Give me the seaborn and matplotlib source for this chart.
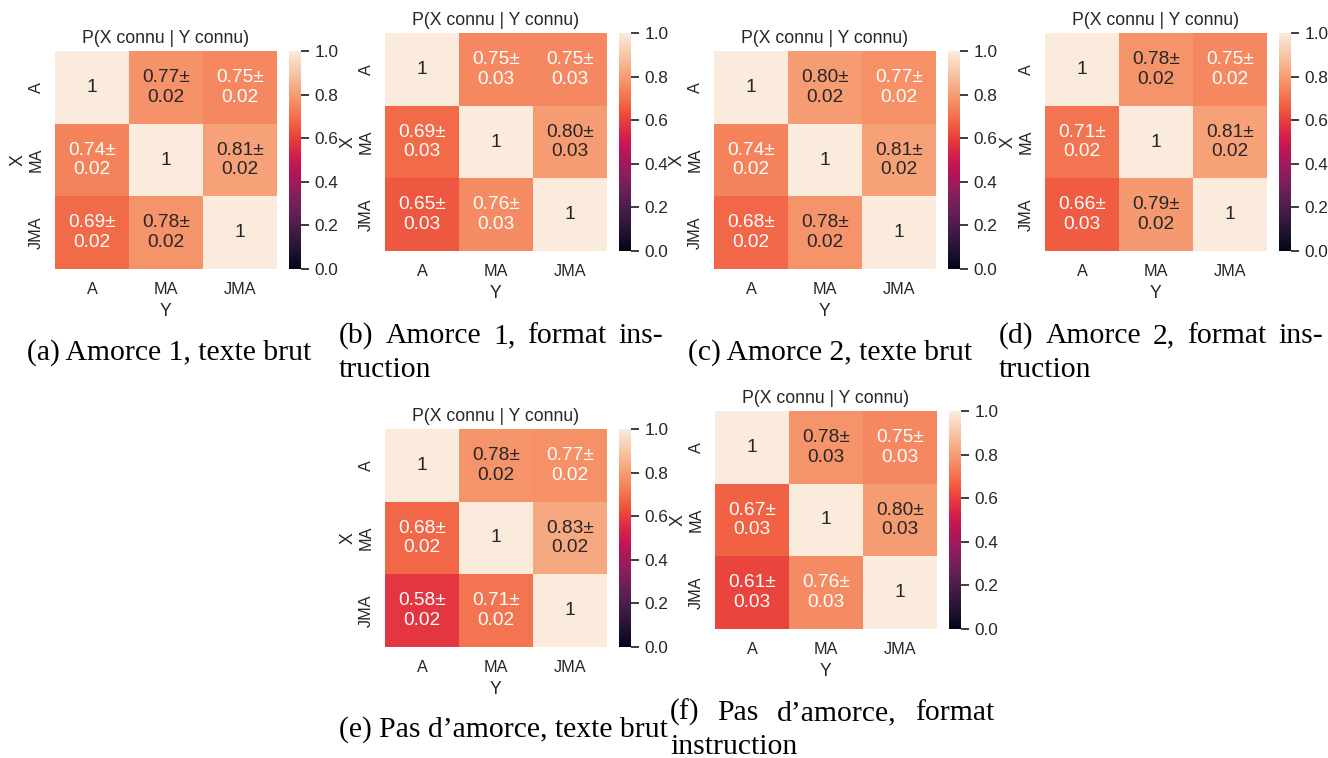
import matplotlib
matplotlib.use("Agg")
import matplotlib.pyplot as plt
import numpy as np
import pandas as pd
import seaborn as sns

# Knowledge categories (rows = X, columns = Y)
levels = ["A", "MA", "JMA"]

# Mean conditional probabilities P(X known | Y known) per setting
means_a = [[1.00, 0.774, 0.75], [0.74, 1.00, 0.81], [0.69, 0.78, 1.00]]
errs_a = [[0.00, 0.02, 0.02], [0.02, 0.00, 0.02], [0.02, 0.02, 0.00]]

means_b = [[1.00, 0.75, 0.75], [0.69, 1.00, 0.80], [0.65, 0.76, 1.00]]
errs_b = [[0.00, 0.03, 0.03], [0.03, 0.00, 0.03], [0.03, 0.03, 0.00]]

means_c = [[1.00, 0.80, 0.77], [0.74, 1.00, 0.81], [0.68, 0.78, 1.00]]
errs_c = [[0.00, 0.02, 0.02], [0.02, 0.00, 0.02], [0.02, 0.02, 0.00]]

means_d = [[1.00, 0.78, 0.75], [0.71, 1.00, 0.81], [0.66, 0.79, 1.00]]
errs_d = [[0.00, 0.02, 0.02], [0.02, 0.00, 0.02], [0.03, 0.02, 0.00]]

means_e = [[1.00, 0.78, 0.77], [0.68, 1.00, 0.83], [0.58, 0.71, 1.00]]
errs_e = [[0.00, 0.02, 0.02], [0.02, 0.00, 0.02], [0.02, 0.02, 0.00]]

means_f = [[1.00, 0.78, 0.75], [0.67, 1.00, 0.80], [0.61, 0.76, 1.00]]
errs_f = [[0.00, 0.03, 0.03], [0.03, 0.00, 0.03], [0.03, 0.03, 0.00]]

captions = [
    "(a) Amorce 1, texte brut",
    "(b) Amorce 1, format ins-|truction",
    "(c) Amorce 2, texte brut",
    "(d) Amorce 2, format ins-|truction",
    "(e) Pas d\u2019amorce, texte brut",
    "(f) Pas d\u2019amorce, format|instruction",
]

sns.set_theme(style="darkgrid", font_scale=1.06)
plt.rcParams["font.family"] = ["Liberation Sans", "DejaVu Sans"]

W, H = 1328, 758
fig = plt.figure(figsize=(W / 100, H / 100), dpi=100)


def px_axes(left, top, w, h):
    return fig.add_axes([left / W, 1 - (top + h) / H, w / W, h / H])


# (left, top) of each heatmap in pixels, and caption layout
panels = [
    (means_a, errs_a, 55, 51, 27, [360], False),
    (means_b, errs_b, 385, 33, 339, [343, 377], True),
    (means_c, errs_c, 714, 51, 688, [360], False),
    (means_d, errs_d, 1045, 33, 999, [343, 377], True),
    (means_e, errs_e, 385, 429, 339, [737], False),
    (means_f, errs_f, 715, 411, 670, [720, 754], True),
]
caption_width = 324
hm_w, hm_h = 222, 218

renderer = fig.canvas.get_renderer()
cap_font = dict(family="Liberation Serif", fontsize=21.3, color="black")


def draw_justified(line, x0, x1, y_base):
    words = line.split(" ")
    texts = [fig.text(0, 0, w_, **cap_font) for w_ in words]
    widths = [t.get_window_extent(renderer).width for t in texts]
    gap = (x1 - x0 - sum(widths)) / (len(words) - 1)
    x = x0
    for t, wd in zip(texts, widths):
        t.set_position((x / W, 1 - y_base / H))
        t.set_va("baseline")
        x += wd + gap


for (means, errs, left, top, cap_x, cap_ys, justify), caption in zip(panels, captions):
    m = np.array(means)
    e = np.array(errs)
    df = pd.DataFrame(m, index=levels, columns=levels)
    labels = np.empty(m.shape, dtype=object)
    for i in range(3):
        for j in range(3):
            if i == j:
                labels[i, j] = f"{m[i, j]:g}"
            else:
                labels[i, j] = f"{m[i, j]:.2f}\u00b1\n{e[i, j]:.2f}"
    ax = px_axes(left, top, hm_w, hm_h)
    cax = px_axes(left + hm_w + 12, top, 12, hm_h)
    sns.heatmap(df, annot=labels, fmt="", cmap="rocket", vmin=0, vmax=1,
                ax=ax, cbar_ax=cax, annot_kws={"fontsize": 13.8})
    ax.set_title("P(X connu | Y connu)")
    ax.set_xlabel("Y")
    ax.set_ylabel("X", labelpad=2)
    ax.tick_params(axis="y", length=0, pad=8)
    cax.set_yticks([0.0, 0.2, 0.4, 0.6, 0.8, 1.0])
    cax.tick_params(labelsize=12.4)

    lines = caption.split("|")
    for k, (line, yb) in enumerate(zip(lines, cap_ys)):
        if justify and k == 0:
            draw_justified(line, cap_x, cap_x + caption_width, yb)
        else:
            fig.text(cap_x / W, 1 - yb / H, line, va="baseline", **cap_font)

fig.savefig("out.png", dpi=100, facecolor="white")
